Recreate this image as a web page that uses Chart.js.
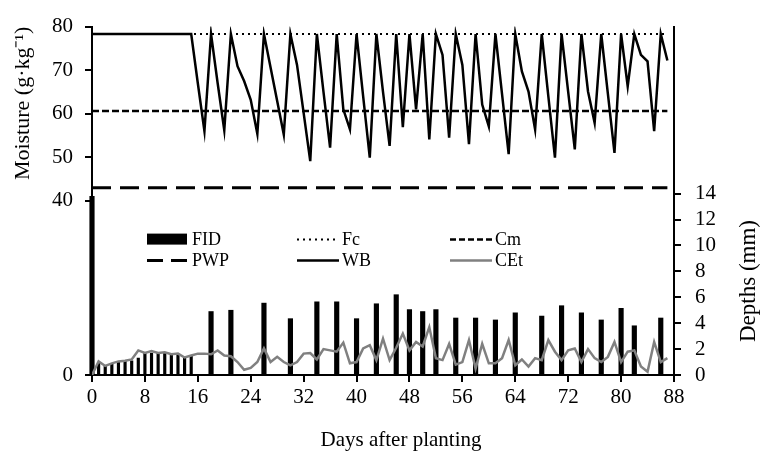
<!DOCTYPE html>
<html>
<head>
<meta charset="utf-8">
<script src="https://cdn.jsdelivr.net/npm/chart.js@4/dist/chart.umd.min.js"></script>
<style>
  html, body { margin: 0; padding: 0; background: #fff; }
</style>
</head>
<body>
<canvas id="moistChart" width="762" height="454"></canvas>
<script>
// days after planting
var days = [0,1,2,3,4,5,6,7,8,9,10,11,12,13,14,15,16,17,18,19,20,21,22,23,24,25,26,27,28,29,
  30,31,32,33,34,35,36,37,38,39,40,41,42,43,44,45,46,47,48,49,50,51,52,53,54,55,56,57,58,59,
  60,61,62,63,64,65,66,67,68,69,70,71,72,73,74,75,76,77,78,79,80,81,82,83,84,85,86,87];

// soil moisture from water balance (g/kg)
var wbMoisture = [78.3,78.3,78.3,78.3,78.3,78.3,78.3,78.3,78.3,78.3,78.3,78.3,78.3,78.3,78.3,78.3,
  67,56.0,78.3,67,56.2,78.3,70.9,67.5,63.2,55.4,78.3,70.6,62.9,55.2,
  78.3,71.2,60.2,49.1,78.3,65,52.2,78.3,61,56.4,78.3,64,49.9,78.3,65,52.6,78.3,56.9,78.3,61,
  78.3,54.1,78.3,73.5,54.5,78.3,71.2,53,78.3,62.1,57.1,78.3,64.5,50.7,78.3,69.7,65.1,56.4,78.3,64,
  49.9,78.3,65,51.8,78.3,65.1,57.9,78.3,64.6,51.0,78.3,66.3,78.3,73.5,72.0,56.0,78.3,72.2];

// crop evapotranspiration (mm)
var cropEt = [0,1.05,0.7,0.9,1.05,1.1,1.2,1.9,1.7,1.85,1.7,1.75,1.6,1.65,1.35,1.5,
  1.65,1.65,1.6,1.9,1.5,1.45,1.0,0.4,0.55,1.0,2.05,1.0,1.4,1.0,
  0.75,1.0,1.65,1.7,1.2,2.0,1.9,1.8,2.5,0.9,1.0,2.05,2.3,1.15,2.8,1.15,2.1,3.2,1.9,2.55,
  2.2,3.7,1.3,1.15,2.4,0.8,1.0,2.7,0.5,2.4,0.9,0.9,1.3,2.7,0.75,1.2,0.65,1.3,1.15,2.7,
  1.8,1.15,1.9,2.05,1.0,2.0,1.3,1.0,1.4,2.55,1.0,1.8,1.9,0.65,0.25,2.55,1.0,1.3];

// irrigation events and depths (mm)
var fidDays = [0,1,2,3,4,5,6,7,8,9,10,11,12,13,14,15,18,21,26,30,34,37,40,43,46,48,50,52,55,58,61,64,68,71,74,77,80,82,86];
var fidDepths = [13.8,0.9,0.7,0.85,1.0,1.05,1.1,1.3,1.75,1.7,1.75,1.7,1.65,1.6,1.4,1.45,
  4.9,5.0,5.55,4.35,5.65,5.65,4.35,5.5,6.2,5.05,4.9,5.05,4.4,4.4,4.25,4.8,4.55,5.35,4.8,4.25,5.15,3.8,4.4];
var establishDays = [1, 15]; // daily small irrigations, drawn as thin bars

var fcLevel = 78.3;   // field capacity
var cmLevel = 60.6;   // critical moisture
var pwpLevel = 43.0;  // permanent wilting point

var moistTicks = [0,40,50,60,70,80];
var depthTicks = [0,2,4,6,8,10,12,14];
var xTicks = [0,8,16,24,32,40,48,56,64,72,80,88];

var serif = 'Liberation Serif';

function pts(vals) { return days.map(function (d, i) { return {x: d, y: vals[i]}; }); }
function flat(v) { return [{x: days[0], y: v}, {x: days[days.length - 1], y: v}]; }
function fidPts(thin) {
  var out = [];
  fidDays.forEach(function (d, i) {
    var inEst = d >= establishDays[0] && d <= establishDays[1];
    if (inEst === thin) out.push({x: d, y: fidDepths[i]});
  });
  return out;
}

// legend drawn inside the plot, 3 columns x 2 rows, plus axis titles the scales can't place
var extras = {
  id: 'extras',
  afterDraw: function (chart) {
    var ctx = chart.ctx, a = chart.chartArea;
    var layout = [['FID', 0, 0], ['Fc', 1, 0], ['Cm', 2, 0], ['PWP', 0, 1], ['WB', 1, 1], ['CEt', 2, 1]];
    var colX = [a.left + 55, a.left + 205, a.left + 358];
    var rowY = [a.top + 213, a.top + 234];
    ctx.save();
    ctx.font = '18px ' + serif;
    ctx.textBaseline = 'middle';
    ctx.fillStyle = '#000';
    layout.forEach(function (it) {
      var ds = chart.data.datasets.find(function (d) { return d.label === it[0]; });
      var x = colX[it[1]], y = rowY[it[2]];
      if (ds.type === 'bar') {
        ctx.fillStyle = '#000';
        ctx.fillRect(x, y - 6, 40, 11);
      } else {
        ctx.strokeStyle = ds.borderColor;
        ctx.lineWidth = ds.borderWidth;
        ctx.setLineDash(ds.legendDash || ds.borderDash || []);
        ctx.beginPath();
        ctx.moveTo(x, y);
        ctx.lineTo(x + 42, y);
        ctx.stroke();
        ctx.setLineDash([]);
      }
      ctx.fillStyle = '#000';
      ctx.fillText(it[0], x + 45, y + 1);
    });
    // x axis title, sits a bit right of the plot centre
    ctx.textAlign = 'center';
    ctx.font = '21px ' + serif;
    ctx.fillText('Days after planting', 401, 440);
    // right axis title, reading bottom to top
    ctx.translate(749, 281);
    ctx.rotate(-Math.PI / 2);
    ctx.font = '23px ' + serif;
    ctx.fillText('Depths (mm)', 0, 0);
    ctx.restore();
  }
};

var axisGrid = { drawOnChartArea: false, color: '#000', lineWidth: 2, tickLength: 7 };
var axisBorder = { display: true, color: '#000', width: 2 };

new Chart(document.getElementById('moistChart').getContext('2d'), {
  type: 'bar',
  data: {
    datasets: [
      { type: 'line', label: 'WB', data: pts(wbMoisture), yAxisID: 'y', borderColor: '#000', borderWidth: 2.5,
        pointRadius: 0, tension: 0, order: 1 },
      { type: 'line', label: 'CEt', data: pts(cropEt), yAxisID: 'y1', borderColor: '#808080', borderWidth: 2.5,
        pointRadius: 0, tension: 0, order: 2 },
      { type: 'line', label: 'Fc', data: flat(fcLevel), yAxisID: 'y', borderColor: '#000', borderWidth: 2,
        borderDash: [2, 4], pointRadius: 0, order: 3 },
      { type: 'line', label: 'Cm', data: flat(cmLevel), yAxisID: 'y', borderColor: '#000', borderWidth: 2.5,
        borderDash: [7, 3], legendDash: [6, 3], pointRadius: 0, order: 4 },
      { type: 'line', label: 'PWP', data: flat(pwpLevel), yAxisID: 'y', borderColor: '#000', borderWidth: 3,
        borderDash: [19, 9], legendDash: [16, 8], pointRadius: 0, order: 5 },
      { type: 'bar', label: 'FID', data: fidPts(false), yAxisID: 'y1', backgroundColor: '#000',
        barThickness: 4.5, grouped: false, clip: false, order: 10 },
      { type: 'bar', label: 'FID-establishment', data: fidPts(true), yAxisID: 'y1', backgroundColor: '#000',
        barThickness: 2.5, grouped: false, order: 11 }
    ]
  },
  options: {
    responsive: false,
    animation: false,
    layout: { padding: { left: 0, right: 0, top: 25, bottom: 0 } },
    plugins: { legend: { display: false }, tooltip: { enabled: false } },
    scales: {
      x: {
        type: 'linear', min: 0, max: 88, offset: false,
        afterBuildTicks: function (s) { s.ticks = xTicks.map(function (v) { return {value: v}; }); },
        afterFit: function (s) { s.height = 79; },
        ticks: { color: '#000', font: { family: serif, size: 21 }, padding: 3, maxRotation: 0 },
        grid: Object.assign({ offset: false }, axisGrid),
        border: axisBorder
      },
      y: {
        position: 'left', min: 0, max: 80,
        afterBuildTicks: function (s) { s.ticks = moistTicks.map(function (v) { return {value: v}; }); },
        afterFit: function (s) { s.width = 92; },
        ticks: { color: '#000', font: { family: serif, size: 21 }, padding: 12 },
        grid: axisGrid,
        border: axisBorder,
        title: { display: true, text: 'Moisture (g\u00b7kg\u207b\u00b9)', align: 'end', color: '#000',
          font: { family: serif, size: 22 }, padding: { top: 10, bottom: 0 } }
      },
      y1: {
        position: 'right', min: 0, max: 26.9,
        afterBuildTicks: function (s) { s.ticks = depthTicks.map(function (v) { return {value: v}; }); },
        afterFit: function (s) { s.width = 88; },
        ticks: { color: '#000', font: { family: serif, size: 21 }, padding: 14 },
        grid: axisGrid,
        border: axisBorder
      }
    }
  },
  plugins: [extras]
});
</script>
</body>
</html>
